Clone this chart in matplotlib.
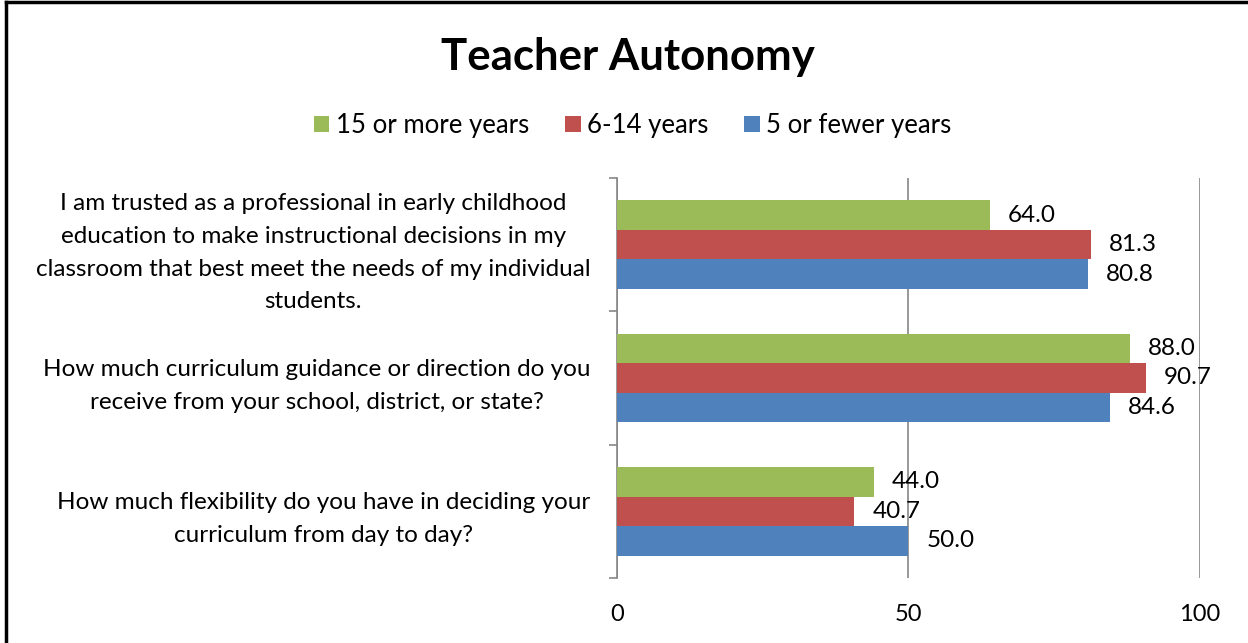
import numpy as np
import matplotlib
matplotlib.use("Agg")
import matplotlib.pyplot as plt
from matplotlib.lines import Line2D

plt.rcParams["font.family"] = ["Lato", "DejaVu Sans"]

# data
questions = [
    "I am trusted as a professional in early childhood\n"
    "education to make instructional decisions in my\n"
    "classroom that best meet the needs of my individual\n"
    "students.",
    "How much curriculum guidance or direction do you\n"
    "receive from your school, district, or state?",
    "How much flexibility do you have in deciding your\n"
    "curriculum from day to day?",
]
series_names = ["15 or more years", "6-14 years", "5 or fewer years"]
fifteen_plus = [64.0, 88.0, 44.0]
six_to_14 = [81.3, 90.7, 40.7]
five_or_fewer = [80.8, 84.6, 50.0]
colors = ["#9BBB59", "#C0504D", "#4F81BD"]

fig = plt.figure(figsize=(12.48, 6.43), dpi=100)
ax = fig.add_axes([0.4944, 0.1011, 0.4671, 0.6221])

n = len(questions)
# first question at the top
y = np.arange(n)[::-1].astype(float)
h = 0.222
all_series = [fifteen_plus, six_to_14, five_or_fewer]
bars = []
for i, (vals, c, name) in enumerate(zip(all_series, colors, series_names)):
    pos = y + h - i * h
    b = ax.barh(pos, vals, height=h, color=c, label=name, zorder=3)
    bars.append(b)
    for p, v in zip(pos, vals):
        ax.annotate(f"{v:.1f}", (v, p), xytext=(13, 0), textcoords="offset points",
                    ha="left", va="center", fontsize=17.5, zorder=4)

ax.set_xlim(0, 100)
ax.set_ylim(-0.5, n - 0.5)
ax.set_xticks([0, 50, 100])
ax.tick_params(axis="x", length=0, labelsize=17, pad=19)
ax.xaxis.grid(True, color="#868686", linewidth=1.2, zorder=0)

ax.set_yticks(y)
ax.set_yticklabels(questions, fontsize=17.5, multialignment="center", linespacing=1.7)
ax.set_yticks(np.arange(n + 1) - 0.5, minor=True)
ax.tick_params(axis="y", which="major", length=0, pad=19)
ax.tick_params(axis="y", which="minor", length=6, color="#868686", width=1.2)

for s in ["top", "right", "bottom"]:
    ax.spines[s].set_visible(False)
ax.spines["left"].set_color("#868686")
ax.spines["left"].set_linewidth(1.2)

fig.text(0.503, 0.912, "Teacher Autonomy", ha="center", va="center",
         fontsize=31.5, fontweight="bold")

fig.legend(handles=bars, labels=series_names, loc="center", ncol=3,
           bbox_to_anchor=(0.507, 0.805), frameon=False, fontsize=18.5,
           handlelength=0.6, handleheight=0.6, handletextpad=0.25, columnspacing=1.4)

# chart border (only the left and top edges are inside the picture)
fig.add_artist(Line2D([0.0052, 0.0052], [0, 0.9969], color="black", linewidth=2.5,
                      transform=fig.transFigure))
fig.add_artist(Line2D([0.0052, 1.0], [0.9969, 0.9969], color="black", linewidth=2.5,
                      transform=fig.transFigure))

fig.savefig("out.png", dpi=100)
